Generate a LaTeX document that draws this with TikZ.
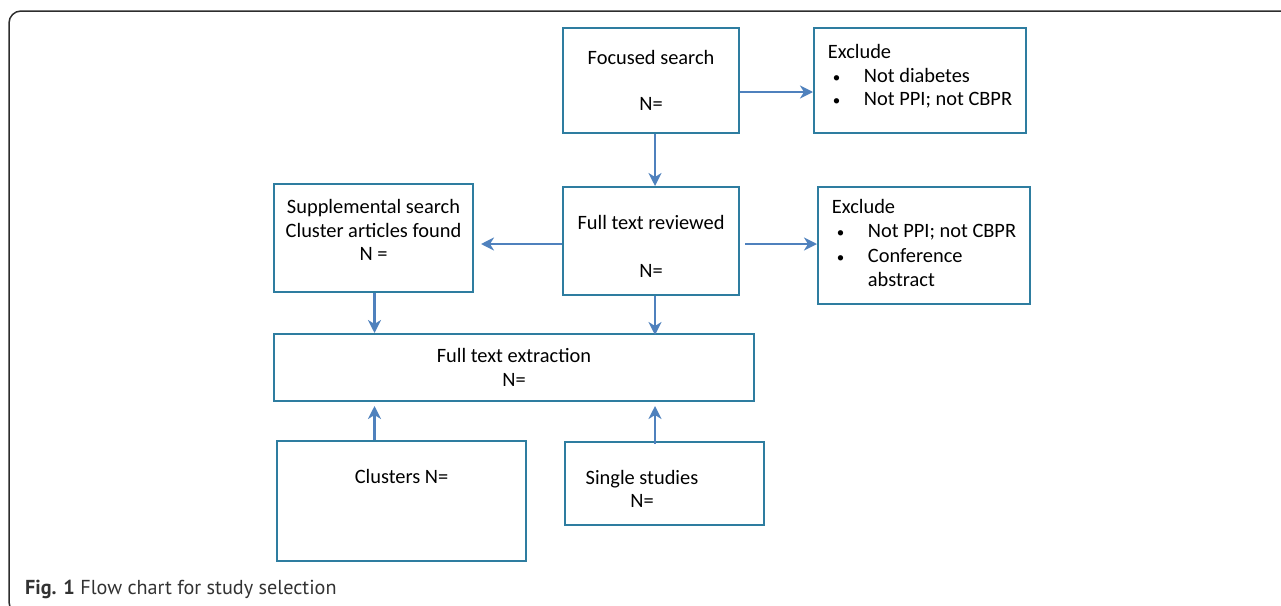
\documentclass[tikz,border=0pt]{standalone}
\usepackage{fontspec}
\setmainfont{Carlito}
\newfontfamily\capfont{PT Sans}
\usetikzlibrary{arrows.meta,calc}
\definecolor{boxblue}{RGB}{46,125,160}
\definecolor{arrowblue}{RGB}{79,129,189}
\definecolor{framegray}{RGB}{45,45,45}
\definecolor{capgray}{RGB}{50,50,50}
\newcommand{\excbullet}{\makebox[36pt][l]{\hspace{5pt}{\fontsize{15}{15}\selectfont\textbullet}}}
\newcommand{\topgap}{\rule{0pt}{25pt}}

\begin{document}
\begin{tikzpicture}[x=1pt,y=-1pt,
  box/.style={draw=boxblue,line width=2pt,rectangle,align=center,inner sep=0pt,
    font=\fontsize{20.4}{23.5}\selectfont},
  exclbox/.style={box,align=left},
  arr/.style={draw=arrowblue,line width=2.8pt,-{Stealth[length=13pt,width=13pt,inset=4pt]}}]
\useasboundingbox (0,0) rectangle (1281,605);
\begin{scope}
\clip (0,0) rectangle (1281,605);
\draw[framegray,line width=1.5pt,rounded corners=12pt] (9,11) rectangle (1300,614);
\end{scope}
\coordinate (colL) at (374.5,0);
\coordinate (colR) at (655,0);
% top row
\node[box,minimum width=176,minimum height=105] (focus) at (651,80.5) {Focused search\\[22.5pt]N=};
\node[exclbox,minimum width=212,minimum height=105,text depth=11pt] (excl1) at (920,80.5)
  {Exclude\\ \excbullet Not diabetes\\ \excbullet Not PPI; not CBPR};
% middle row
\node[box,minimum width=176,minimum height=108] (review) at (651,241) {\topgap Full text reviewed\\[24.5pt]N=};
\node[box,minimum width=199,minimum height=108,text depth=16pt] (suppl) at (373.5,238)
  {Supplemental search\\Cluster articles found\\N =};
\node[exclbox,minimum width=212,minimum height=117,text depth=5pt,font=\fontsize{20.4}{24.3}\selectfont] (excl2) at (924,245.5)
  {Exclude\\ \excbullet Not PPI; not CBPR\\ \excbullet Conference\\ \hspace*{36pt}abstract};
\node[box,minimum width=480,minimum height=67] (extract) at (514,367.5) {Full text extraction\\N=};
% bottom row
\node[box,minimum width=249,minimum height=120,text depth=49pt] (clusters) at (401.5,501) {Clusters N=};
\node[box,minimum width=199,minimum height=83] (single) at (664.5,483.5)
  {\topgap Single studies\hspace*{45pt}\\N=\hspace*{45pt}};
% caption
\node[anchor=base west,inner sep=0pt,text=capgray,font=\capfont\fontsize{20.2}{24}\selectfont] (caption)
  at (25,594) {\textbf{Fig. 1} Flow chart for study selection};
% arrows
\draw[arr] ([yshift=-11.5pt]focus.east) -- ([yshift=-11.5pt]excl1.west);
\draw[arr] (focus.south -| colR) -- (review.north -| colR);
\draw[arr] ([yshift=-3pt]review.west) -- ([xshift=7pt,yshift=-6pt]suppl.east);
\draw[arr] ([xshift=5pt,yshift=-3pt]review.east) -- ([yshift=1.5pt]excl2.west);
\draw[arr] (suppl.south -| colL) -- (extract.north -| colL);
\draw[arr] (review.south -| colR) -- ($(extract.north -| colR)+(0,2)$);
\draw[arr] (clusters.north -| colL) -- ($(extract.south -| colL)+(0,4)$);
\draw[arr] ($(single.north -| colR)+(0,3)$) -- ($(extract.south -| colR)+(0,4)$);
\end{tikzpicture}
\end{document}
